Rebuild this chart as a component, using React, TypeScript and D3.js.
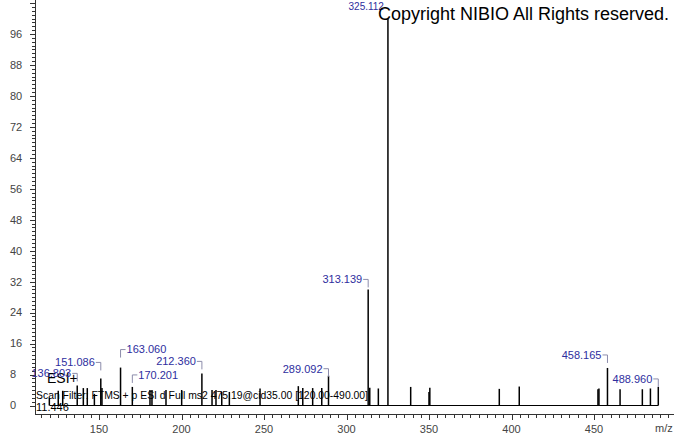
import React from "react";
import * as d3 from "d3";

const peakMz = [119.9, 125.3, 128.0, 136.803, 140.5, 142.9, 147.2, 151.086, 151.8, 163.06, 170.201, 180.9, 182.1, 190.6, 200.1, 212.36, 218.5, 220.9, 224.4, 229.0, 247.6, 270.8, 273.5, 279.5, 285.0, 289.092, 313.139, 314.1, 319.3, 325.112, 338.9, 350.0, 350.5, 392.6, 404.7, 452.4, 453.0, 458.165, 465.8, 479.3, 484.2, 488.96];
const peakInt = [2.0, 3.8, 3.8, 5.2, 4.5, 4.5, 3.0, 7.0, 4.5, 9.8, 4.8, 4.0, 4.0, 4.0, 4.0, 8.3, 4.0, 4.0, 3.5, 3.5, 4.4, 5.0, 4.5, 4.5, 4.5, 7.7, 30.0, 4.6, 4.4, 100, 4.8, 3.5, 4.6, 4.3, 4.9, 4.2, 4.4, 9.7, 4.2, 4.2, 4.4, 4.8];

const labelMz = [136.803, 151.086, 163.06, 170.201, 212.36, 289.092, 313.139, 458.165, 488.96];
const labelText = ["136.803", "151.086", "163.060", "170.201", "212.360", "289.092", "313.139", "458.165", "488.960"];
// layout: side ("L" = text left of peak, "R" = text right), gap above peak top in px
const labelSide = ["L", "L", "R", "R", "L", "L", "L", "L", "L"];
const labelGap = [12, 16, 18, 12, 12, 7, 10, 13, 8];

const yTicks = [0, 8, 16, 24, 32, 40, 48, 56, 64, 72, 80, 88, 96];
const xTicks = [150, 200, 250, 300, 350, 400, 450];

const FONT = "'Liberation Sans', Arial, sans-serif";

export default function App() {
  const W = 674, H = 434;
  const x = d3.scaleLinear().domain([150, 450]).range([99, 594]);
  const y = d3.scaleLinear().domain([0, 96]).range([405.5, 34]);
  const axisX = 35;
  const axisY = 414;

  const yMinor = d3.range(0, 105, 1).filter((v) => y(v) >= 0);
  const xMinor = d3.range(115, 520, 5).filter((v) => x(v) > axisX && x(v) <= W);

  const topPeak = peakMz[peakInt.indexOf(d3.max(peakInt) as number)];

  return (
    <svg width={W} height={H} style={{ position: "absolute", left: 0, top: 0, background: "#fff" }} fontFamily={FONT}>
      <rect x={0} y={0} width={W} height={H} fill="#fff" />
      {/* y axis */}
      <line x1={axisX + 0.5} x2={axisX + 0.5} y1={0} y2={axisY} stroke="#333" />
      {yMinor.map((v) => (
        <line key={"ym" + v} x1={axisX - (v % 8 === 0 ? 5 : 3)} x2={axisX} y1={Math.round(y(v)) + 0.5} y2={Math.round(y(v)) + 0.5} stroke="#333" />
      ))}
      {yTicks.map((v) => (
        <text key={"yt" + v} x={10} y={y(v)} dy="0.35em" fontSize={11} fill="#444">{v}</text>
      ))}
      {/* x axis */}
      <line x1={axisX} x2={W} y1={axisY + 0.5} y2={axisY + 0.5} stroke="#333" />
      {xMinor.map((v) => (
        <line key={"xm" + v} x1={Math.round(x(v)) + 0.5} x2={Math.round(x(v)) + 0.5} y1={axisY} y2={axisY + (v % 50 === 0 ? 6 : 4)} stroke="#333" />
      ))}
      {xTicks.map((v) => (
        <text key={"xt" + v} x={x(v)} y={429} dy="0.35em" textAnchor="middle" fontSize={11} fill="#444">{v}</text>
      ))}
      <text x={655} y={428} dy="0.35em" fontSize={11} fill="#444">m/z</text>

      {/* baseline */}
      <line x1={x(120)} x2={x(488.96)} y1={y(0)} y2={y(0)} stroke="#000" />
      {/* peaks */}
      {peakMz.map((m, i) => (
        <line key={"p" + i} x1={x(m)} x2={x(m)} y1={y(0)} y2={y(peakInt[i])} stroke="#000" strokeWidth={1.5} />
      ))}

      {/* annotations */}
      <text x={47} y={378} dy="0.35em" fontSize={14} fill="#000">ESI+</text>
      <text x={36} y={395} dy="0.35em" fontSize={11} fill="#000" textLength={332} lengthAdjust="spacingAndGlyphs">Scan Filter: FTMS + p ESI d Full ms2 475.19@cid35.00 [120.00-490.00]</text>
      <text x={36} y={407} dy="0.35em" fontSize={11} fill="#000">11.446</text>

      {/* peak labels */}
      {labelMz.map((m, i) => {
        const idx = peakMz.indexOf(m);
        const px = x(m);
        const top = y(peakInt[idx]);
        const ly = top - labelGap[i];
        const left = labelSide[i] === "L";
        return (
          <g key={"l" + i}>
            <path
              d={left ? `M${px - 5},${ly} H${px} V${ly + 8}` : `M${px},${ly + 8} V${ly} H${px + 5}`}
              fill="none"
              stroke="#8c8cab"
            />
            <text x={left ? px - 6 : px + 6} y={ly} dy="0.35em" textAnchor={left ? "end" : "start"} fontSize={11} fill="#2e2e9e">
              {labelText[i]}
            </text>
          </g>
        );
      })}
      <text x={x(topPeak) - 4} y={6} dy="0.35em" textAnchor="end" fontSize={10} fill="#2e2e9e">325.112</text>
      <text x={378} y={14} dy="0.35em" fontSize={18} fill="#000">Copyright NIBIO All Rights reserved.</text>
    </svg>
  );
}
